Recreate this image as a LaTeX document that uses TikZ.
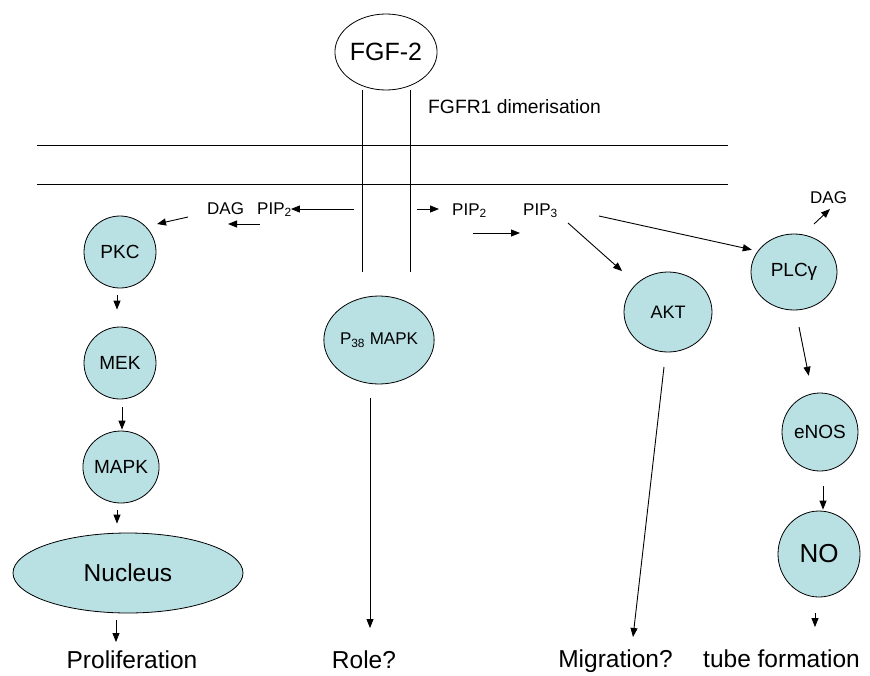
\documentclass[tikz,border=0pt]{standalone}
\usepackage{fontspec}
\setmainfont{Liberation Sans}
\usepackage{tikz}
\usetikzlibrary{shapes.geometric,arrows.meta}
\definecolor{cellblue}{RGB}{185,224,227}

\begin{document}
\begin{tikzpicture}[x=1pt, y=-1pt,
    prot/.style={draw, ellipse, fill=cellblue, inner sep=0pt, line width=0.8pt, font=\fontsize{19}{22}\selectfont},
    lbl/.style={inner sep=0pt, anchor=base west, font=\fontsize{17}{20}\selectfont},
    outcome/.style={inner sep=0pt, anchor=base, font=\fontsize{24.5}{28}\selectfont},
    arr/.style={-{Triangle[length=9pt,width=7pt]}, line width=0.9pt}]
    \path[fill=white, use as bounding box] (0,0) rectangle (870,675);

    % membrane and receptor
    \node[draw, ellipse, inner sep=0pt, line width=0.8pt, minimum width=82pt, minimum height=76pt, font=\fontsize{25}{30}\selectfont] (fgf) at (386,52) {FGF-2};
    \node[inner sep=0pt, anchor=base west, font=\fontsize{19.3}{22}\selectfont] (fgfr) at (428,113) {FGFR1 dimerisation};
    \draw[line width=0.8pt] (37,145) -- (728,145);
    \draw[line width=0.8pt] (37,184) -- (728,184);
    \draw[line width=0.8pt] (362,90) -- (362,272);
    \draw[line width=0.8pt] (410,90) -- (410,272);

    % small labels under the membrane
    \node[lbl] (dagL) at (207,214) {DAG};
    \node[lbl] (pipL) at (257,214) {PIP\textsubscript{2}};
    \node[lbl] (pipR) at (452,215) {PIP\textsubscript{2}};
    \node[lbl] (pipT) at (523,215) {PIP\textsubscript{3}};
    \node[lbl] (dagR) at (810,203) {DAG};

    % proteins
    \node[prot, minimum width=72pt, minimum height=72pt] (pkc) at (120,252) {PKC};
    \node[prot, minimum width=72pt, minimum height=72pt] (mek) at (120,363) {MEK};
    \node[prot, minimum width=72pt, minimum height=72pt] (mapk) at (121,467) {MAPK};
    \node[prot, minimum width=230pt, minimum height=80pt, font=\fontsize{24.5}{28}\selectfont] (nuc) at (128,573) {Nucleus};
    \node[prot, minimum width=96pt, minimum height=88pt, font=\fontsize{17}{20}\selectfont] (p38) at (379,340) {P\textsubscript{38} MAPK};
    \node[prot, minimum width=88pt, minimum height=80pt, font=\fontsize{18}{21}\selectfont] (akt) at (668,312) {AKT};
    \node[prot, minimum width=86pt, minimum height=76pt] (plc) at (794,272) {PLCγ};
    \node[prot, minimum width=76pt, minimum height=78pt] (enos) at (820,432) {eNOS};
    \node[prot, minimum width=82pt, minimum height=86pt, font=\fontsize{26}{30}\selectfont] (no) at (819,554) {NO};

    % outcomes
    \node[outcome] (prolif) at (132,668) {Proliferation};
    \node[outcome] (role) at (364,668) {Role?};
    \node[outcome] (migr) at (615.5,667) {Migration?};
    \node[outcome] (tube) at (781.5,667) {tube formation};

    % free arrow ends
    \coordinate (recL) at (354,209);
    \coordinate (hydA) at (260,224);
    \coordinate (hydB) at (228,224);
    \coordinate (dagA) at (188,217);
    \coordinate (dagB) at (157,224);
    \coordinate (recR) at (417,209);
    \coordinate (phosA) at (473,233);
    \coordinate (phosB) at (520,233);
    \coordinate (pipA) at (568,223);
    \coordinate (pipB) at (599,216);
    \coordinate (plcA) at (814,224);
    \coordinate (plcB) at (830,209);
    \coordinate (plcC) at (799,327);
    \coordinate (aktA) at (664,367);
    \coordinate (aktB) at (633,637);

    % left branch
    \draw[arr, shorten >=-1pt] (recL) -- (pipL.east |- recL);
    \draw[arr] (hydA) -- (hydB);
    \draw[arr] (dagA) -- (dagB);
    \draw[arr, shorten <=7pt, shorten >=17pt] ([xshift=-3pt]pkc.south) -- ([xshift=-3pt]mek.north);
    \draw[arr, shorten <=8pt, shorten >=1pt] ([xshift=2pt]mek.south) -- ([xshift=2pt]mek.south |- mapk.north);
    \draw[arr, shorten <=7pt, shorten >=9pt] ([xshift=-4pt]mapk.south) -- ([xshift=-4pt]mapk.south |- nuc.north);
    \draw[arr, shorten <=7pt, shorten >=8pt] ([xshift=-12pt]nuc.south) -- ([xshift=-12pt]nuc.south |- prolif.north);

    % middle
    \draw[arr, shorten <=14pt, shorten >=22pt] ([xshift=-9pt]p38.south) -- ([xshift=-9pt]p38.south |- role.north);

    % right branch
    \draw[arr, shorten >=13pt] (recR) -- (pipR.west |- recR);
    \draw[arr] (phosA) -- (phosB);
    \draw[arr, shorten >=19pt] (pipA) -- (akt);
    \draw[arr, shorten >=6pt] (pipB) -- (plc.150);
    \draw[arr] (plcA) -- (plcB);
    \draw[arr, shorten >=18pt] (plcC) -- (enos);
    \draw[arr] (aktA) -- (aktB);
    \draw[arr, shorten <=15pt, shorten >=1pt] ([xshift=3pt]enos.south) -- ([xshift=3pt]enos.south |- no.north);
    \draw[arr, shorten <=16pt, shorten >=22pt] ([xshift=-4pt]no.south) -- ([xshift=-4pt]no.south |- tube.north);
\end{tikzpicture}
\end{document}
